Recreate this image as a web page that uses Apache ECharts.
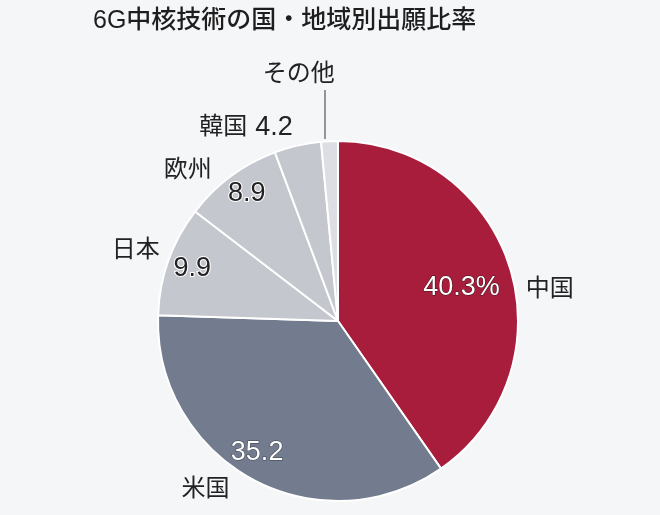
<!DOCTYPE html>
<html>
<head>
<meta charset="utf-8">
<script src="https://cdn.jsdelivr.net/npm/echarts@6/dist/echarts.min.js"></script>
<style>
  html, body { margin: 0; background: #f5f6f8; }
  #chart { width: 660px; height: 515px; }
</style>
</head>
<body>
<div id="chart"></div>
<script>
const regions = ['中国', '米国', '日本', '欧州', '韓国', 'その他'];
const shares = [40.3, 35.2, 9.9, 8.9, 4.2, 1.5];
const sliceColors = ['#a91d3c', '#737c8e', '#c4c7cd', '#c4c7cd', '#c4c7cd', '#dcdee3'];

const FONT = "'Liberation Sans', 'Noto Sans CJK JP', sans-serif";
const CX = 338, CY = 321, R = 180;

// where the labels sit: [radius factor, degrees clockwise from top]
const valuePos = [[0.71, 75], [0.86, 211.5], [0.86, 289.7], [0.87, 324.4], null, null];
const namePos = [[1.19, 81.4], [1.19, 218.2], [1.19, 289.3], [1.18, 315], [1.19, 334.6], [1.39, 351]];
const valueInk = ['#fff', '#fff', '#222', '#222', '#222', '#222'];
const valueEdge = ['#3a1018', '#3b414d', '#fff', '#fff', '#fff', '#fff'];

function polar(p) {
  const a = p[1] * Math.PI / 180;
  return { x: CX + R * p[0] * Math.sin(a), y: CY - R * p[0] * Math.cos(a) };
}

function placeBy(table) {
  return function (params) {
    const p = table[params.dataIndex];
    if (!p) return {};
    const q = polar(p);
    return { x: q.x, y: q.y, align: 'center', verticalAlign: 'middle' };
  };
}

const chart = echarts.init(document.getElementById('chart'));

chart.setOption({
  backgroundColor: '#f5f6f8',
  animation: false,
  title: {
    text: '6G中核技術の国・地域別出願比率',
    left: 88,
    top: 4,
    textStyle: { fontFamily: FONT, fontSize: 25, fontWeight: 500, color: '#1e1e1e' }
  },
  graphic: [{
    type: 'line',
    shape: { x1: 325, y1: 90, x2: 325, y2: 139 },
    style: { stroke: '#555', lineWidth: 1.2 }
  }],
  series: [
    {
      type: 'pie',
      center: [CX, CY],
      radius: [0, R],
      startAngle: 90,
      clockwise: true,
      avoidLabelOverlap: false,
      emphasis: { disabled: true },
      itemStyle: { borderColor: '#fff', borderWidth: 2 },
      label: {
        show: true,
        position: 'inside',
        fontFamily: FONT,
        fontSize: 27,
        formatter: (p) => p.dataIndex === 0 ? p.value + '%' : (p.dataIndex < 4 ? String(p.value) : '')
      },
      labelLine: { show: false },
      labelLayout: placeBy(valuePos),
      data: regions.map((name, i) => ({
        name: name,
        value: shares[i],
        itemStyle: { color: sliceColors[i] },
        label: { color: valueInk[i], textBorderColor: valueEdge[i], textBorderWidth: i < 2 ? 1 : 2 }
      }))
    },
    {
      type: 'pie',
      center: [CX, CY],
      radius: [0, R],
      startAngle: 90,
      clockwise: true,
      silent: true,
      avoidLabelOverlap: false,
      itemStyle: { color: 'rgba(0,0,0,0)', borderWidth: 0 },
      label: {
        show: true,
        position: 'inside',
        fontFamily: FONT,
        fontSize: 24,
        color: '#222',
        rich: { v: { fontFamily: FONT, fontSize: 27, color: '#222', padding: [0, 0, 0, 8] } },
        formatter: (p) => p.name === '韓国' ? p.name + '{v|' + p.value + '}' : p.name
      },
      labelLine: { show: false },
      labelLayout: placeBy(namePos),
      data: regions.map((name, i) => ({ name: name, value: shares[i] }))
    }
  ]
});
</script>
</body>
</html>
